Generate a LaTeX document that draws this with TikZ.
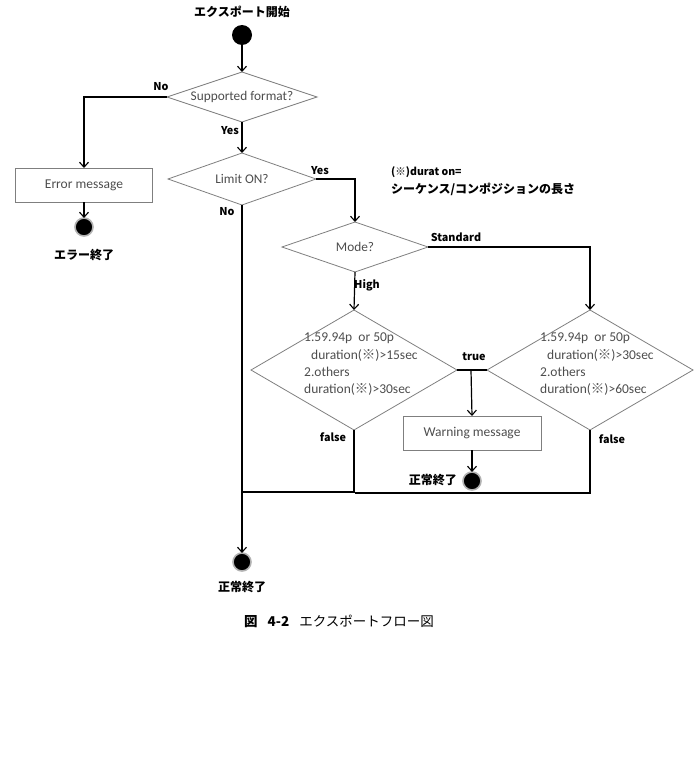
\documentclass[tikz,border=0pt]{standalone}
\usepackage{fontspec}
\setmainfont{Carlito}
\newfontfamily\cjk{Noto Sans CJK JP}
\usetikzlibrary{shapes.geometric,arrows.meta}
\definecolor{edgegray}{HTML}{7F7F7F}
\definecolor{txtgray}{HTML}{4D4D4D}
\newcommand{\kome}{{\cjk ※}}
\tikzset{
  conn/.style={draw=black,line width=1.2pt},
  arr/.style={conn,-{Straight Barb[length=5pt,width=9pt,line width=1.1pt]}},
  dec/.style={diamond,aspect=3,draw=edgegray,line width=0.8pt,inner sep=0pt,outer sep=0pt,
     text=txtgray,font=\fontsize{13.3}{15}\selectfont},
  msgbox/.style={rectangle,draw=edgegray,line width=0.8pt,inner sep=0pt,outer sep=0pt,
     minimum width=138pt,minimum height=34pt,text=txtgray,font=\fontsize{13.5}{15}\selectfont},
  lbl/.style={font=\cjk\bfseries\fontsize{10.8}{12}\selectfont,inner sep=0pt},
  jlbl/.style={font=\cjk\bfseries\fontsize{12}{14}\selectfont,inner sep=0pt},
  startdot/.style={circle,fill=black,minimum size=20pt,inner sep=0pt,outer sep=0pt},
  enddot/.style={circle,fill=black,draw=gray!60,line width=1.6pt,minimum size=18pt,inner sep=0pt,outer sep=0pt},
  condtxt/.style={align=left,text=txtgray,font=\fontsize{13.5}{17.3}\selectfont,inner sep=0pt,anchor=north west}
}
\begin{document}
\begin{tikzpicture}[x=1pt,y=-1pt]
\useasboundingbox (0,0) rectangle (695,776);
% titles
\node[jlbl] (ttl) at (242,12) {エクスポート開始};
\node[startdot] (start) at (242,35) {};
% decisions
\node[dec,minimum width=150pt,minimum height=50pt] (d1) at (242,97) {Supported format?};
\node[dec,minimum width=148pt,minimum height=52pt] (d2) at (242,179) {Limit ON?};
\node[dec,minimum width=146pt,minimum height=50pt] (d3) at (355,247) {Mode?\hspace{14pt}};
\node[dec,aspect=1.7,minimum width=206pt,minimum height=120pt] (d4) at (354,370) {};
\node[dec,aspect=1.7,minimum width=206pt,minimum height=120pt] (d5) at (590,370) {};
\node[condtxt] (t4) at (304,333) {1.59.94p\ \ or 50p\\\hspace{7pt}duration(\kome)>15sec\\2.others\\duration(\kome)>30sec};
\node[condtxt] (t5) at (540,333) {1.59.94p\ \ or 50p\\\hspace{7pt}duration(\kome)>30sec\\2.others\\duration(\kome)>60sec};
% boxes
\node[msgbox,minimum width=137pt] (err) at (84,185) {Error message};
\node[msgbox] (warn) at (472,433) {Warning message};
% end points
\node[enddot] (end1) at (84,227) {};
\node[jlbl] (end1l) at (84,255) {エラー終了};
\node[enddot] (end2) at (472,481) {};
\node[jlbl,anchor=east] (end2l) at (457,480) {正常終了};
\node[enddot] (end3) at (242,562) {};
\node[jlbl] (end3l) at (242,587) {正常終了};
% note
\node[font=\cjk\bfseries\fontsize{10.5}{12}\selectfont,anchor=west,inner sep=0pt] (note1) at (391,172) {(※)durat on=};
\node[jlbl,anchor=west] (note2) at (391,189) {シーケンス/コンポジションの長さ};
% connectors
\draw[arr] (start) -- (d1.north);
\draw[arr] (d1.west) -| (err.north);
\node[lbl] (lno1) at (161,87) {No};
\draw[arr] (err.south) -- (end1);
\draw[arr] (d1.south) -- (d2.north);
\node[lbl] (lyes1) at (230,131) {Yes};
\draw[arr] (d2.east) -| (d3.north);
\node[lbl] (lyes2) at (320,171) {Yes};
\coordinate (join) at (242,492);
\draw[arr,line width=1.8pt] (d2.south) -- (end3);
\node[lbl] (lno2) at (227,212) {No};
\draw[arr] (d3.east) -| (d5.north);
\node[lbl] (lstd) at (456,237) {Standard};
\draw[arr] (d3.south) -- (d4.north);
\node[lbl] (lhigh) at (367,285) {High};
\draw[conn] (d4.east) -- (d5.west);
\coordinate (tsplit) at (471,370);
\node[lbl] (ltrue) at (474,357) {true};
\draw[arr] (tsplit) -- (warn.north);
\draw[arr] (warn.south) -- (end2.north);
\draw[conn] (d4.south) |- (join);
\draw[conn] (d5.south) |- (355,493);
\node[lbl] (lf1) at (333,437) {false};
\node[lbl] (lf2) at (612,439) {false};
% caption
\node[font=\cjk\fontsize{13.5}{15}\selectfont,inner sep=0pt] (cap) at (339,621) {\textbf{図\hspace{10pt}4-2}\hspace{10pt}エクスポートフロー図};
\end{tikzpicture}
\end{document}
